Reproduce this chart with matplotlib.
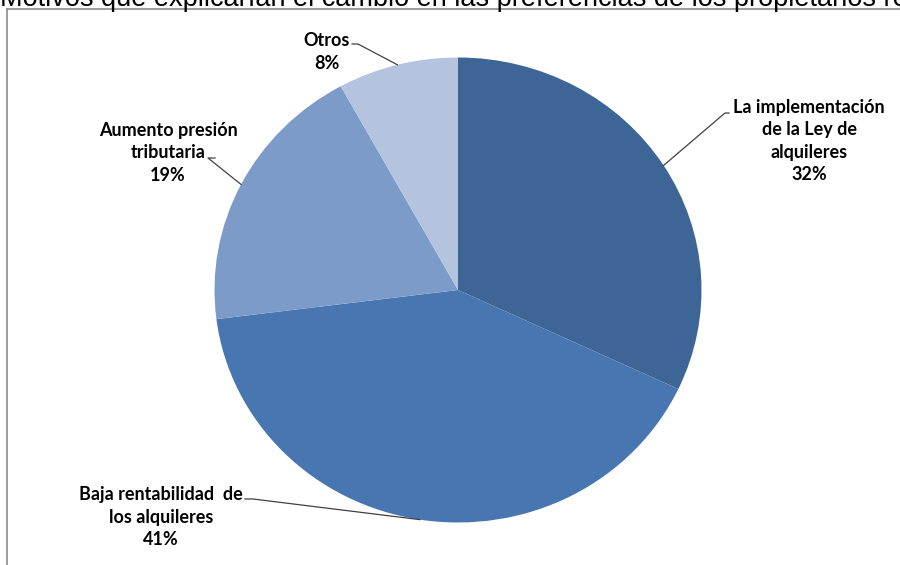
import matplotlib
matplotlib.use('Agg')
import matplotlib.pyplot as plt
import numpy as np
from matplotlib.lines import Line2D

# datos
categorias = ['La implementación\nde la Ley de\nalquileres',
              'Baja rentabilidad  de\nlos alquileres',
              'Aumento presión\ntributaria',
              'Otros']
valores = [32, 41, 19, 8]
colores = ['#3D6596', '#4776B0', '#7C9BC8', '#B4C3DE']
titulo = 'Motivos que explicarían el cambio en las preferencias de los propietarios res'

W, H = 900, 565
fig = plt.figure(figsize=(W / 100, H / 100), dpi=100)
fig.patch.set_facecolor('white')

# titulo (cortado arriba en el original)
fig.text(0.0, 1 - 6 / H, titulo, fontsize=19.5, family='Liberation Sans',
         ha='left', va='baseline', color='black')

# marco del grafico (solo se ven borde izquierdo y superior)
fig.add_artist(Line2D([7 / W, 7 / W], [0, 1 - 9 / H], transform=fig.transFigure,
                      color='#8C8C8C', lw=1.2))
fig.add_artist(Line2D([7 / W, 1], [1 - 9 / H, 1 - 9 / H], transform=fig.transFigure,
                      color='#8C8C8C', lw=1.2))

# ejes de la torta (ligeramente eliptica)
cx, cy, rx, ry = 458, 290, 243.5, 232.5
ax = fig.add_axes([(cx - rx) / W, 1 - (cy + ry) / H, 2 * rx / W, 2 * ry / H])
ax.pie(valores, colors=colores, startangle=90, counterclock=False,
       wedgeprops=dict(linewidth=0))
ax.set_aspect('auto')
ax.set_xlim(-1, 1)
ax.set_ylim(-1, 1)

def px(x, y):
    return ((x - cx) / rx, (cy - y) / ry)

# posiciones de etiquetas (centro del texto) y codo de la linea guia, en pixeles
pos_texto = [(809, 141), (161, 517), (168, 153), (327, 52)]
codos = [[(729, 113), (725, 113)],
         [(245, 499), (253, 499)],
         [(215, 158), (208, 158)],
         [(352, 44), (358, 44)]]

acum = np.cumsum([0] + valores[:-1])
for i, (cat, v) in enumerate(zip(categorias, valores)):
    ang = np.deg2rad(90 - 360 * (acum[i] + v / 2) / 100)
    borde = (np.cos(ang), np.sin(ang))
    pts = [px(*p) for p in codos[i]] + [borde]
    ax.plot([p[0] for p in pts], [p[1] for p in pts], color='#404040', lw=0.9,
            clip_on=False)
    tx, ty = px(*pos_texto[i])
    ax.text(tx, ty, f'{cat}\n{v}%', ha='center', va='center', fontsize=13,
            fontweight='bold', family='Lato', linespacing=1.4, color='black',
            clip_on=False)

fig.savefig('out.png', dpi=100, facecolor='white')
